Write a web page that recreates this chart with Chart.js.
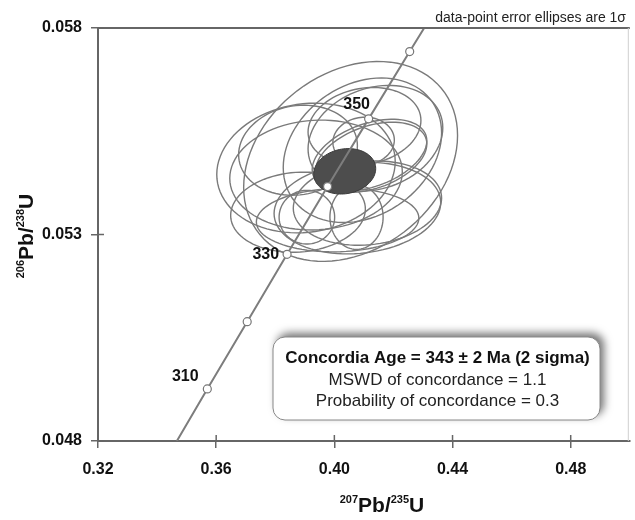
<!DOCTYPE html>
<html>
<head>
<meta charset="utf-8">
<script src="https://cdn.jsdelivr.net/npm/chart.js@4.4.0/dist/chart.umd.min.js"></script>
<style>
  html, body { margin: 0; padding: 0; background: #fff; }
  #wrap { width: 635px; height: 520px; position: relative; }
</style>
</head>
<body>
<div id="wrap"><canvas id="concordia" width="635" height="520"></canvas></div>
<script>
// Axis ticks
const xTicks = [0.32, 0.36, 0.40, 0.44, 0.48];
const xTickLabels = ['0.32', '0.36', '0.40', '0.44', '0.48'];
const yTicks = [0.048, 0.053, 0.058];
const yTickLabels = ['0.048', '0.053', '0.058'];

// Concordia curve (207Pb/235U, 206Pb/238U)
const concordiaX = [0.3467, 0.3570, 0.3705, 0.3840, 0.3977, 0.4116, 0.4255, 0.4304];
const concordiaY = [0.0480, 0.04926, 0.05089, 0.05252, 0.05416, 0.05580, 0.05743, 0.0580];

// Age markers on the curve (Ma)
const markerAges = [310, 320, 330, 340, 350, 360];
const markerX = [0.3570, 0.3705, 0.3840, 0.3977, 0.4116, 0.4255];
const markerY = [0.04926, 0.05089, 0.05252, 0.05416, 0.05580, 0.05743];
const labelledAges = [310, 330, 350];

// Data-point error ellipses: centre, 1 sigma half widths, correlation
const ellX   = [0.4055, 0.4095, 0.3904, 0.3938, 0.4139, 0.4102, 0.4119, 0.4125, 0.4112, 0.4078, 0.4075, 0.3877, 0.4011, 0.3907, 0.3877, 0.4099];
const ellY   = [0.05477, 0.05504, 0.05461, 0.05444, 0.05533, 0.05562, 0.05492, 0.05487, 0.05376, 0.05364, 0.05342, 0.05354, 0.05335, 0.05342, 0.05504, 0.05526];
const ellSx  = [0.0362, 0.0268, 0.0302, 0.0292, 0.0228, 0.0191, 0.0194, 0.0188, 0.0251, 0.0282, 0.0090, 0.0228, 0.0275, 0.0094, 0.0201, 0.0104];
const ellSy  = [0.00242, 0.00175, 0.00157, 0.00133, 0.00128, 0.00094, 0.00087, 0.00085, 0.00102, 0.00111, 0.00078, 0.00097, 0.00077, 0.00065, 0.00109, 0.00058];
const ellRho = [0.26, 0.24, 0.1, 0.06, 0.2, 0.15, 0.4, 0.38, 0.12, 0.12, 0, 0.08, 0.06, 0, 0.1, 0.05];

// Concordia age ellipse
const ageX = 0.4035, ageY = 0.05453, ageSx = 0.0105, ageSy = 0.00055, ageRho = 0.12;

const boxLines = [
    'Concordia Age = 343 \u00b1 2 Ma (2 sigma)',
    'MSWD of concordance = 1.1',
    'Probability of concordance = 0.3'
];
const noteText = 'data-point error ellipses are 1\u03c3';

const FONT = '"Liberation Sans", Arial, Helvetica, sans-serif';

function ellipsePath(ctx, xs, ys, cx, cy, sx, sy, rho) {
    ctx.beginPath();
    const n = 90;
    const k = Math.sqrt(1 - rho * rho);
    for (let i = 0; i <= n; i++) {
        const t = i / n * Math.PI * 2;
        const px = xs.getPixelForValue(cx + sx * Math.cos(t));
        const py = ys.getPixelForValue(cy + sy * (rho * Math.cos(t) + k * Math.sin(t)));
        if (i === 0) ctx.moveTo(px, py); else ctx.lineTo(px, py);
    }
    ctx.closePath();
}

function drawSupText(ctx, parts, x, y, align) {
    // parts: [[text, isSup], ...]
    const big = 'bold 21px ' + FONT, small = 'bold 11px ' + FONT;
    let total = 0;
    parts.forEach(p => {
        ctx.font = p[1] ? small : big;
        total += ctx.measureText(p[0]).width;
    });
    let cx = align === 'center' ? x - total / 2 : x;
    parts.forEach(p => {
        ctx.font = p[1] ? small : big;
        ctx.fillText(p[0], cx, p[1] ? y - 9 : y);
        cx += ctx.measureText(p[0]).width;
    });
}

const ellipsePlugin = {
    id: 'ellipses',
    beforeDatasetsDraw(chart) {
        const ctx = chart.ctx;
        const xs = chart.scales.x, ys = chart.scales.y;
        const area = chart.chartArea;
        ctx.save();
        ctx.beginPath();
        ctx.rect(area.left, area.top, area.right - area.left, area.bottom - area.top);
        ctx.clip();
        ctx.strokeStyle = '#7a7a7a';
        ctx.lineWidth = 1.4;
        for (let i = 0; i < ellX.length; i++) {
            ellipsePath(ctx, xs, ys, ellX[i], ellY[i], ellSx[i], ellSy[i], ellRho[i]);
            ctx.stroke();
        }
        ellipsePath(ctx, xs, ys, ageX, ageY, ageSx, ageSy, ageRho);
        ctx.fillStyle = '#4d4d4d';
        ctx.fill();
        ctx.strokeStyle = '#3a3a3a';
        ctx.lineWidth = 1;
        ctx.stroke();
        ctx.restore();
    },
    afterDraw(chart) {
        const ctx = chart.ctx;
        const xs = chart.scales.x, ys = chart.scales.y;
        const area = chart.chartArea;
        ctx.save();

        // frame top and right
        ctx.strokeStyle = '#666';
        ctx.lineWidth = 2;
        ctx.beginPath();
        ctx.moveTo(area.left, area.top);
        ctx.lineTo(area.right, area.top);
        ctx.stroke();
        ctx.strokeStyle = '#cfcfcf';
        ctx.lineWidth = 1;
        ctx.beginPath();
        ctx.moveTo(area.right - 1.5, area.top);
        ctx.lineTo(area.right - 1.5, area.bottom);
        ctx.stroke();

        // inner part of tick marks
        ctx.strokeStyle = '#666';
        ctx.lineWidth = 1.5;
        xTicks.forEach(v => {
            const px = xs.getPixelForValue(v);
            ctx.beginPath();
            ctx.moveTo(px, area.bottom);
            ctx.lineTo(px, area.bottom - 6);
            ctx.stroke();
        });
        yTicks.forEach(v => {
            const py = ys.getPixelForValue(v);
            ctx.beginPath();
            ctx.moveTo(area.left, py);
            ctx.lineTo(area.left + 6, py);
            ctx.stroke();
        });

        // age labels
        ctx.fillStyle = '#111';
        ctx.font = 'bold 16px ' + FONT;
        ctx.textBaseline = 'middle';
        markerAges.forEach((age, i) => {
            if (labelledAges.indexOf(age) < 0) return;
            const px = xs.getPixelForValue(markerX[i]);
            const py = ys.getPixelForValue(markerY[i]);
            if (age === 310) {
                ctx.textAlign = 'center';
                ctx.fillText(String(age), px - 22, py - 12);
            } else if (age === 330) {
                ctx.textAlign = 'right';
                ctx.fillText(String(age), px - 8, py);
            } else {
                ctx.textAlign = 'center';
                ctx.fillText(String(age), px - 12, py - 14);
            }
        });

        // result box
        const bx = 273, by = 337, bw = 327, bh = 83;
        ctx.save();
        ctx.shadowColor = 'rgba(0,0,0,0.55)';
        ctx.shadowBlur = 9;
        ctx.shadowOffsetX = 4;
        ctx.shadowOffsetY = -4;
        ctx.fillStyle = '#fff';
        ctx.beginPath();
        ctx.roundRect(bx, by, bw, bh, 12);
        ctx.fill();
        ctx.restore();
        ctx.strokeStyle = '#888';
        ctx.lineWidth = 1;
        ctx.beginPath();
        ctx.roundRect(bx, by, bw, bh, 12);
        ctx.stroke();
        ctx.fillStyle = '#111';
        ctx.textAlign = 'center';
        ctx.textBaseline = 'middle';
        ctx.font = 'bold 17px ' + FONT;
        ctx.fillText(boxLines[0], bx + bw / 2 + 1, by + 21);
        ctx.font = '17px ' + FONT;
        ctx.fillStyle = '#222';
        ctx.fillText(boxLines[1], bx + bw / 2 + 1, by + 43);
        ctx.fillText(boxLines[2], bx + bw / 2 + 1, by + 64);

        // note at top right
        ctx.font = '14px ' + FONT;
        ctx.textAlign = 'right';
        ctx.textBaseline = 'alphabetic';
        ctx.fillStyle = '#222';
        ctx.fillText(noteText, 626, 22);

        // axis titles
        ctx.fillStyle = '#111';
        ctx.textAlign = 'left';
        drawSupText(ctx, [['207', true], ['Pb/', false], ['235', true], ['U', false]], 382, 512, 'center');
        ctx.save();
        ctx.translate(33, 236);
        ctx.rotate(-Math.PI / 2);
        drawSupText(ctx, [['206', true], ['Pb/', false], ['238', true], ['U', false]], 0, 0, 'center');
        ctx.restore();

        ctx.restore();
    }
};

const ctx = document.getElementById('concordia').getContext('2d');
const chart = new Chart(ctx, {
    type: 'scatter',
    data: {
        datasets: [{
            label: 'Concordia',
            data: concordiaX.map((x, i) => ({ x: x, y: concordiaY[i] })),
            showLine: true,
            borderColor: '#7d7d7d',
            borderWidth: 2,
            pointRadius: 0,
            order: 2
        }, {
            label: 'Ages',
            data: markerX.map((x, i) => ({ x: x, y: markerY[i] })),
            pointRadius: 4,
            pointBackgroundColor: '#fff',
            pointBorderColor: '#777',
            pointBorderWidth: 1.2,
            order: 1
        }]
    },
    options: {
        responsive: false,
        animation: false,
        events: [],
        layout: { padding: { top: 28, right: 0, left: 0, bottom: 0 } },
        plugins: {
            legend: { display: false },
            tooltip: { enabled: false }
        },
        scales: {
            x: {
                type: 'linear',
                min: 0.32,
                max: 0.50,
                afterBuildTicks: s => { s.ticks = xTicks.map(v => ({ value: v })); },
                afterFit: s => { s.height = 79; },
                ticks: {
                    callback: (v, i) => xTickLabels[i],
                    color: '#111',
                    font: { family: FONT, size: 16, weight: 'bold' },
                    padding: 12,
                    maxRotation: 0
                },
                grid: { drawOnChartArea: false, drawTicks: true, tickLength: 7, color: '#666', lineWidth: 1.5 },
                border: { display: true, color: '#666', width: 2 }
            },
            y: {
                type: 'linear',
                min: 0.048,
                max: 0.058,
                afterBuildTicks: s => { s.ticks = yTicks.map(v => ({ value: v })); },
                afterFit: s => { s.width = 98; },
                ticks: {
                    callback: (v, i) => yTickLabels[i],
                    color: '#111',
                    font: { family: FONT, size: 16, weight: 'bold' },
                    padding: 9
                },
                grid: { drawOnChartArea: false, drawTicks: true, tickLength: 7, color: '#666', lineWidth: 1.5 },
                border: { display: true, color: '#666', width: 2 }
            }
        }
    },
    plugins: [ellipsePlugin]
});
</script>
</body>
</html>
